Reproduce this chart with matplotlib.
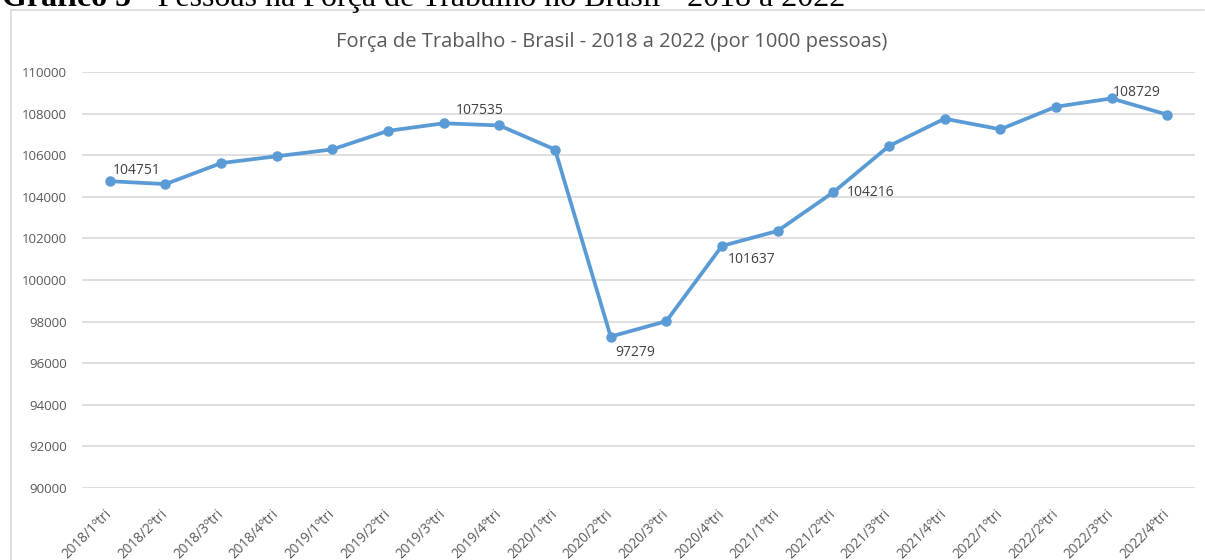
import matplotlib
matplotlib.use("Agg")
import matplotlib.pyplot as plt
from matplotlib.lines import Line2D

# dados (mil pessoas)
trimestres = ["2018/1ºtri", "2018/2ºtri", "2018/3ºtri", "2018/4ºtri",
              "2019/1ºtri", "2019/2ºtri", "2019/3ºtri", "2019/4ºtri",
              "2020/1ºtri", "2020/2ºtri", "2020/3ºtri", "2020/4ºtri",
              "2021/1ºtri", "2021/2ºtri", "2021/3ºtri", "2021/4ºtri",
              "2022/1ºtri", "2022/2ºtri", "2022/3ºtri", "2022/4ºtri"]
forca_trabalho = [104751, 104610, 105620, 105950,
                  106280, 107170, 107535, 107430,
                  106270, 97279, 98020, 101637,
                  102360, 104216, 106440, 107755,
                  107245, 108330, 108729, 107950]
rotulos = [0, 6, 9, 11, 13, 18]
y_ticks = list(range(90000, 110001, 2000))

W, H = 1205, 560
fig = plt.figure(figsize=(W / 100, H / 100), dpi=100)
fig.patch.set_facecolor("white")

# moldura do grafico (estilo Excel)
fig.add_artist(Line2D([11 / W, 1204 / W], [1 - 10 / H, 1 - 10 / H], color="#D9D9D9", lw=1.2))
fig.add_artist(Line2D([11 / W, 11 / W], [1 - 10 / H, 0], color="#D9D9D9", lw=1.2))

# titulo do documento (no original aparece cortado no topo)
base_y = 1 - 6 / H
t1 = fig.text(2 / W, base_y, "Gráfico 5", family="Liberation Serif", weight="bold",
              fontsize=23, va="baseline", ha="left", color="black")
renderer = fig.canvas.get_renderer()
bb = t1.get_window_extent(renderer)
fig.text(bb.x1 / W, base_y, " - Pessoas na Força de Trabalho no Brasil - 2018 a 2022",
         family="Liberation Serif", fontsize=23, va="baseline", ha="left", color="black")

left, right, top, bottom = 82, 1195, 72, 488
ax = fig.add_axes([left / W, 1 - bottom / H, (right - left) / W, (bottom - top) / H])

x = list(range(len(trimestres)))
ax.plot(x, forca_trabalho, color="#5B9BD5", lw=2.7, marker="o", ms=6.5,
        solid_capstyle="round", solid_joinstyle="round", zorder=3)

offsets = {0: (2, 2, "left", "bottom"), 6: (9, 4, "left", "bottom"),
           9: (3, -6, "left", "top"), 11: (4, -4, "left", "top"),
           13: (10, 0, "left", "center"), 18: (1, -1, "left", "bottom")}
for i in rotulos:
    dx, dy, ha, va = offsets[i]
    ax.annotate(str(forca_trabalho[i]), (x[i], forca_trabalho[i]), xytext=(dx, dy),
                textcoords="offset points", ha=ha, va=va, fontsize=10,
                color="#404040", family="Open Sans")

ax.set_xlim(-0.5, len(trimestres) - 0.5)
ax.set_ylim(90000, 110000)
ax.set_yticks(y_ticks)
ax.set_yticklabels([str(v) for v in y_ticks], fontsize=9.5, color="#595959", family="Open Sans")
ax.set_xticks(x)
ax.set_xticklabels(trimestres, rotation=45, ha="right", va="center", rotation_mode="anchor",
                   fontsize=9.8, color="#595959", family="Open Sans")
ax.tick_params(axis="both", length=0)
ax.tick_params(axis="x", pad=17)
ax.tick_params(axis="y", pad=11)
ax.grid(axis="y", color="#D9D9D9", lw=1.2)
ax.set_axisbelow(True)
for s in ax.spines.values():
    s.set_visible(False)

fig.text(612 / W, 1 - 42 / H, "Força de Trabalho - Brasil - 2018 a 2022 (por 1000 pessoas)",
         ha="center", va="center", fontsize=14.5, color="#595959", family="Open Sans")

fig.savefig("out.png", dpi=100)
